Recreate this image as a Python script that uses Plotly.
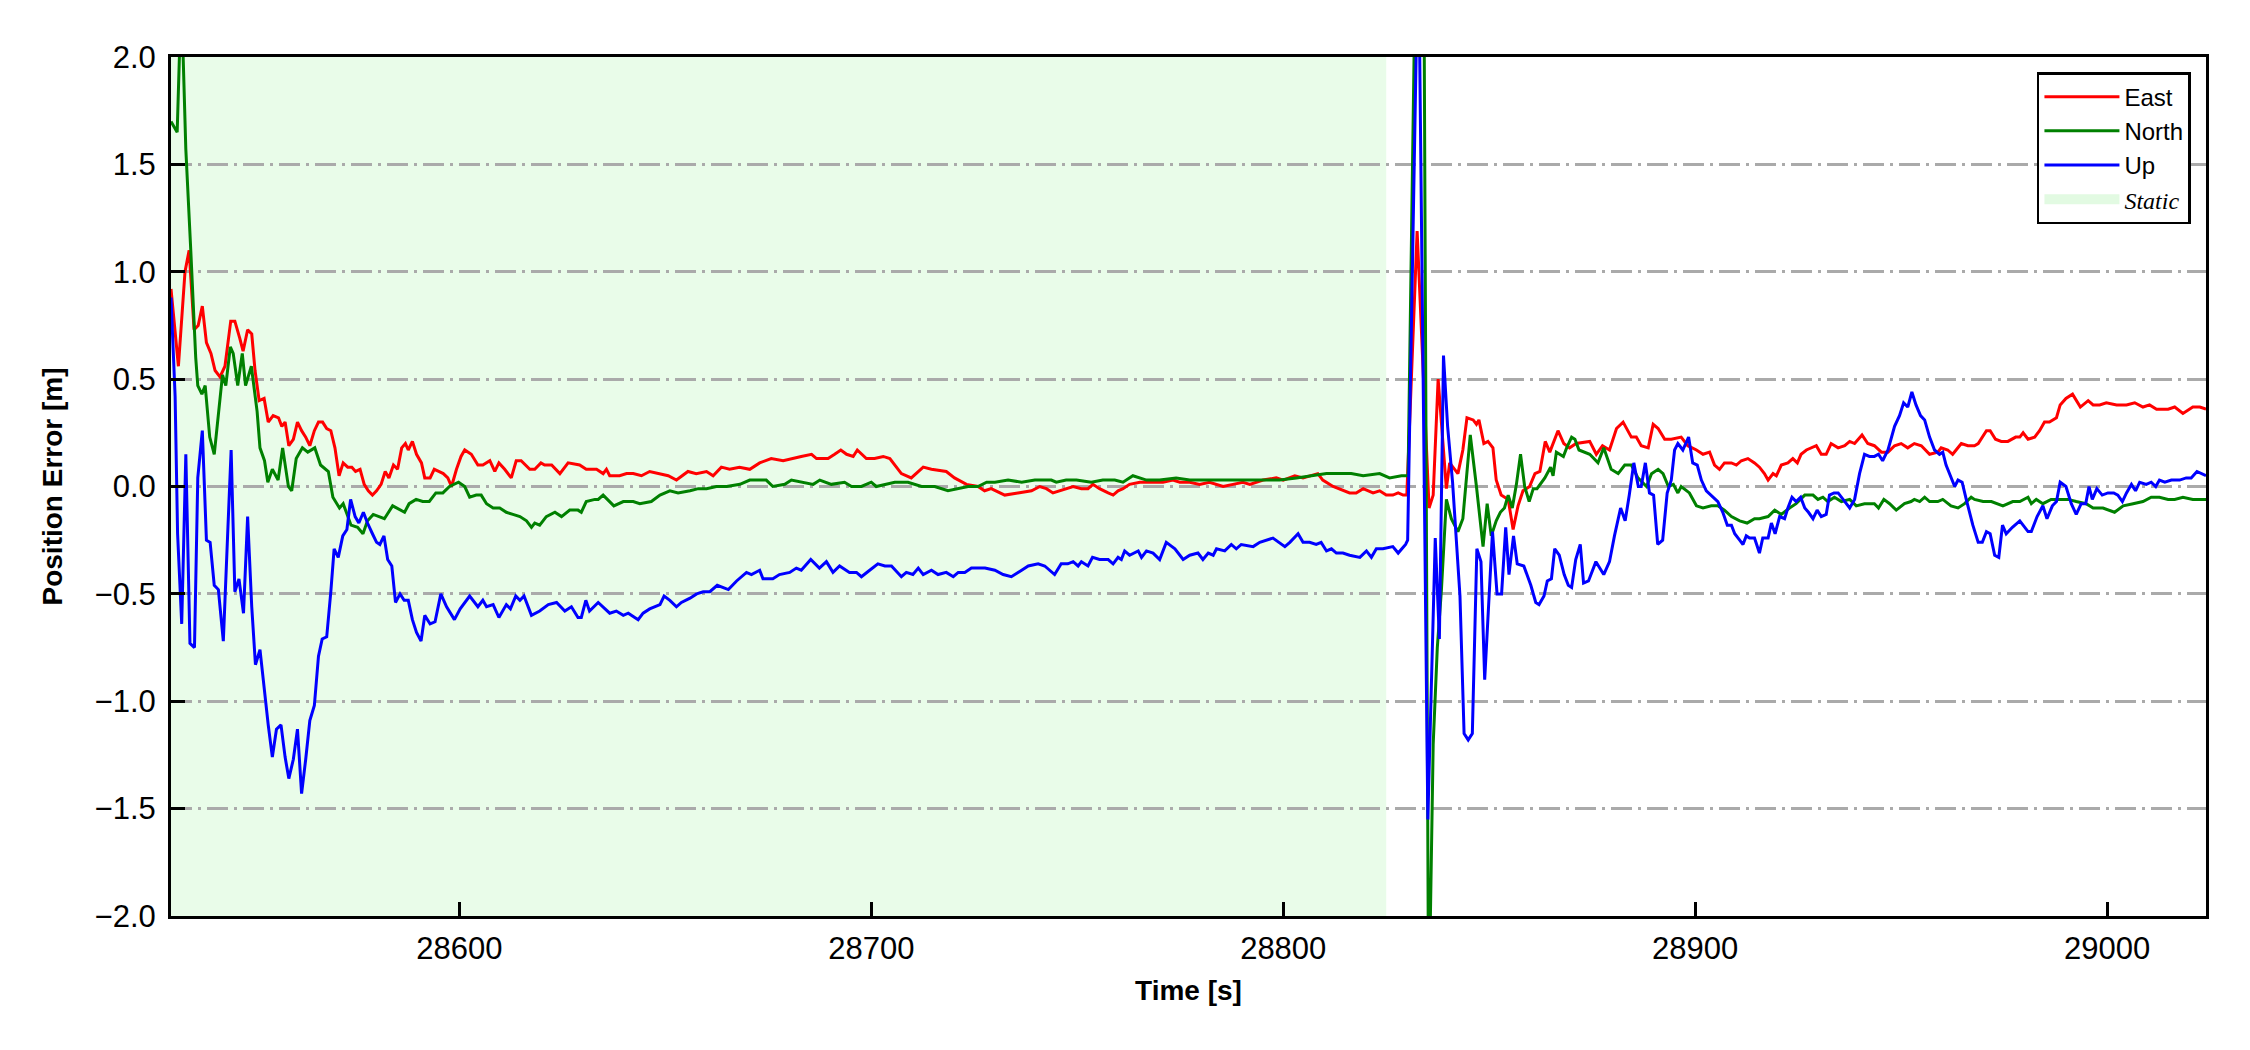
import plotly.graph_objects as go

# ---------------- data ----------------
static_span = [28530, 28825]
x_range = [28530, 29024]
y_range = [-2.0, 2.0]
x_ticks = [28600, 28700, 28800, 28900, 29000]
y_ticks = [-2.0, -1.5, -1.0, -0.5, 0.0, 0.5, 1.0, 1.5, 2.0]

east_t = [28530.0, 28531.8, 28533.4, 28534.4, 28535.6, 28536.6, 28537.6, 28538.6, 28539.7, 28540.7,
          28541.9, 28543.1, 28544.5, 28545.5, 28546.7, 28547.5, 28548.6, 28549.6, 28550.4, 28551.4,
          28552.6, 28553.6, 28554.8, 28556.1, 28556.9, 28557.7, 28558.6, 28559.7, 28560.7, 28561.7,
          28562.7, 28563.7, 28564.8, 28565.8, 28566.8, 28567.8, 28568.8, 28569.8, 28570.8, 28571.8,
          28572.9, 28573.9, 28574.8, 28575.9, 28576.9, 28577.9, 28578.9, 28579.9, 28581.0, 28582.0,
          28582.9, 28584.0, 28585.0, 28586.0, 28586.9, 28587.6, 28588.6, 28589.6, 28590.8, 28591.6,
          28592.9, 28593.9, 28595.0, 28596.1, 28597.2, 28598.1, 28599.3, 28600.4, 28601.3, 28602.9,
          28604.5, 28605.7, 28607.4, 28608.6, 28609.6, 28611.0, 28612.6, 28613.8, 28615.0, 28617.1,
          28618.3, 28619.8, 28620.7, 28622.4, 28624.4, 28626.4, 28629.2, 28630.8, 28633.3, 28634.9,
          28635.7, 28636.5, 28638.9, 28640.6, 28642.2, 28644.2, 28646.2, 28648.7, 28650.7, 28652.7,
          28655.5, 28657.5, 28660.0, 28661.6, 28663.6, 28665.6, 28668.0, 28670.5, 28672.9, 28675.7,
          28678.6, 28683.0, 28685.5, 28686.7, 28689.5, 28691.1, 28692.6, 28694.0, 28695.6, 28696.6,
          28698.8, 28700.8, 28702.9, 28704.5, 28707.3, 28709.7, 28712.6, 28714.6, 28718.2, 28720.2,
          28723.1, 28725.9, 28727.5, 28729.1, 28732.4, 28735.6, 28738.9, 28740.9, 28742.5, 28744.1,
          28745.7, 28747.3, 28749.0, 28751.0, 28752.6, 28753.8, 28755.4, 28757.5, 28758.7, 28759.9,
          28761.1, 28762.7, 28765.2, 28767.6, 28770.8, 28773.2, 28774.9, 28777.3, 28779.7, 28782.1,
          28785.4, 28787.8, 28790.2, 28791.9, 28795.1, 28798.3, 28800.0, 28802.8, 28804.8, 28808.4,
          28809.6, 28812.1, 28814.5, 28816.1, 28817.7, 28819.4, 28821.8, 28823.4, 28825.0, 28826.6,
          28827.9, 28829.1, 28830.0, 28832.5, 28835.4, 28836.4, 28837.6, 28839.6, 28840.4, 28842.4,
          28843.6, 28844.6, 28846.1, 28846.9, 28847.5, 28848.7, 28849.7, 28850.9, 28851.7, 28852.9,
          28854.6, 28855.8, 28857.0, 28858.2, 28859.8, 28861.1, 28862.3, 28863.6, 28864.7, 28866.7,
          28868.1, 28869.5, 28871.1, 28874.4, 28876.0, 28877.5, 28879.2, 28880.9, 28882.5, 28884.5,
          28885.7, 28886.9, 28888.6, 28889.8, 28891.0, 28892.6, 28894.2, 28896.6, 28898.2, 28900.3,
          28901.9, 28903.5, 28904.7, 28905.9, 28907.1, 28908.8, 28910.0, 28911.2, 28912.8, 28914.4,
          28915.6, 28916.8, 28917.7, 28918.9, 28919.7, 28920.9, 28922.5, 28923.7, 28924.8, 28925.7,
          28927.0, 28928.2, 28929.4, 28930.6, 28931.8, 28933.0, 28934.7, 28936.3, 28937.5, 28938.7,
          28940.5, 28941.9, 28943.5, 28945.2, 28946.8, 28948.4, 28950.0, 28951.6, 28953.2, 28954.9,
          28956.9, 28958.9, 28959.7, 28961.3, 28962.5, 28964.6, 28966.2, 28967.8, 28968.7, 28970.7,
          28971.6, 28972.9, 28974.3, 28975.9, 28977.8, 28978.8, 28979.6, 28980.8, 28982.4, 28983.6,
          28984.8, 28986.0, 28987.7, 28988.6, 28990.0, 28991.6, 28992.5, 28993.5, 28995.4, 28996.6,
          28998.2, 28999.8, 29002.3, 29004.7, 29006.7, 29008.7, 29010.3, 29012.0, 29014.8, 29016.4,
          29018.4, 29020.8, 29022.5, 29024.0]
east_v = [0.92, 0.56, 1.00, 1.10, 0.73, 0.75, 0.84, 0.67, 0.62, 0.54,
          0.51, 0.56, 0.77, 0.77, 0.69, 0.63, 0.73, 0.71, 0.54, 0.40,
          0.41, 0.30, 0.33, 0.32, 0.28, 0.30, 0.19, 0.22, 0.30, 0.26,
          0.23, 0.19, 0.26, 0.30, 0.30, 0.27, 0.26, 0.18, 0.05, 0.11,
          0.09, 0.09, 0.07, 0.08, 0.01, -0.02, -0.04, -0.02, 0.01, 0.07,
          0.04, 0.10, 0.08, 0.18, 0.20, 0.17, 0.21, 0.15, 0.11, 0.04,
          0.04, 0.08, 0.07, 0.06, 0.04, 0.00, 0.08, 0.14, 0.17, 0.15,
          0.10, 0.10, 0.12, 0.07, 0.11, 0.08, 0.04, 0.12, 0.12, 0.08,
          0.08, 0.11, 0.10, 0.10, 0.06, 0.11, 0.10, 0.08, 0.08, 0.06,
          0.08, 0.05, 0.05, 0.06, 0.06, 0.05, 0.07, 0.06, 0.05, 0.03,
          0.07, 0.06, 0.07, 0.05, 0.09, 0.08, 0.09, 0.08, 0.11, 0.13,
          0.12, 0.14, 0.15, 0.13, 0.13, 0.15, 0.17, 0.15, 0.14, 0.17,
          0.13, 0.13, 0.14, 0.13, 0.06, 0.04, 0.09, 0.08, 0.07, 0.04,
          0.01, 0.00, -0.02, -0.01, -0.04, -0.03, -0.02, 0.00, -0.01, -0.03,
          -0.02, -0.01, 0.00, -0.01, -0.01, 0.01, -0.01, -0.03, -0.04, -0.02,
          -0.01, 0.01, 0.02, 0.02, 0.02, 0.03, 0.02, 0.02, 0.01, 0.02,
          0.00, 0.01, 0.02, 0.01, 0.03, 0.04, 0.03, 0.05, 0.04, 0.06,
          0.03, 0.00, -0.02, -0.03, -0.03, -0.01, -0.03, -0.02, -0.04, -0.04,
          -0.03, -0.04, -0.04, 1.19, -0.10, -0.04, 0.50, -0.01, 0.11, 0.06,
          0.17, 0.32, 0.31, 0.29, 0.31, 0.20, 0.21, 0.18, 0.03, -0.04,
          -0.06, -0.20, -0.09, -0.02, 0.00, 0.06, 0.07, 0.21, 0.16, 0.26,
          0.20, 0.18, 0.20, 0.21, 0.15, 0.19, 0.17, 0.27, 0.30, 0.23,
          0.23, 0.19, 0.18, 0.29, 0.27, 0.22, 0.22, 0.23, 0.19, 0.17,
          0.15, 0.16, 0.10, 0.08, 0.11, 0.11, 0.10, 0.12, 0.13, 0.11,
          0.09, 0.06, 0.03, 0.06, 0.05, 0.10, 0.11, 0.13, 0.11, 0.15,
          0.17, 0.18, 0.19, 0.15, 0.15, 0.20, 0.18, 0.19, 0.21, 0.20,
          0.24, 0.20, 0.19, 0.16, 0.16, 0.19, 0.20, 0.18, 0.20, 0.19,
          0.15, 0.16, 0.18, 0.17, 0.15, 0.20, 0.19, 0.19, 0.20, 0.26,
          0.26, 0.22, 0.21, 0.21, 0.23, 0.23, 0.25, 0.22, 0.23, 0.26,
          0.30, 0.30, 0.32, 0.38, 0.41, 0.43, 0.40, 0.37, 0.40, 0.38,
          0.38, 0.39, 0.38, 0.38, 0.39, 0.37, 0.38, 0.36, 0.36, 0.37,
          0.34, 0.37, 0.37, 0.36]

north_t = [28530.0, 28531.5, 28532.5, 28533.6, 28534.8, 28536.0, 28536.5, 28537.5, 28538.3, 28539.4,
           28540.5, 28541.4, 28542.5, 28543.3, 28544.4, 28545.1, 28546.2, 28547.3, 28548.1, 28549.5,
           28550.9, 28551.6, 28552.7, 28553.5, 28554.6, 28556.0, 28557.1, 28558.5, 28559.3, 28560.4,
           28561.9, 28563.2, 28564.9, 28566.3, 28568.2, 28569.3, 28570.9, 28571.8, 28573.7, 28575.3,
           28576.6, 28577.7, 28579.1, 28580.5, 28581.8, 28583.8, 28585.6, 28586.7, 28587.8, 28589.5,
           28591.1, 28592.7, 28594.3, 28596.0, 28597.6, 28599.8, 28601.3, 28602.5, 28604.1, 28605.3,
           28606.6, 28608.2, 28609.8, 28611.4, 28613.0, 28614.7, 28616.3, 28617.5, 28618.3, 28619.5,
           28621.1, 28623.2, 28624.8, 28626.8, 28628.8, 28629.6, 28630.8, 28632.9, 28633.7, 28634.9,
           28637.5, 28639.8, 28642.2, 28643.8, 28646.6, 28648.7, 28651.1, 28653.1, 28656.0, 28658.0,
           28660.0, 28662.4, 28664.9, 28668.1, 28670.5, 28672.9, 28674.5, 28676.1, 28679.0, 28680.6,
           28683.8, 28685.9, 28687.5, 28690.3, 28693.5, 28695.2, 28697.6, 28700.0, 28701.2, 28705.7,
           28708.9, 28712.2, 28715.4, 28718.6, 28723.5, 28725.9, 28728.0, 28730.0, 28733.2, 28736.5,
           28739.7, 28743.7, 28744.9, 28747.3, 28749.8, 28753.4, 28756.2, 28759.1, 28761.1, 28763.5,
           28766.8, 28770.0, 28774.0, 28777.3, 28781.3, 28785.4, 28788.6, 28791.9, 28795.1, 28799.1,
           28803.2, 28807.2, 28810.5, 28813.7, 28816.5, 28819.4, 28823.4, 28825.8, 28828.7, 28830.3,
           28832.5, 28834.0, 28835.3, 28836.4, 28837.4, 28838.4, 28839.6, 28840.8, 28842.4, 28843.6,
           28845.4, 28846.9, 28848.5, 28849.5, 28850.5, 28851.7, 28852.7, 28853.7, 28854.6, 28855.6,
           28856.6, 28857.6, 28858.6, 28859.7, 28860.7, 28861.6, 28863.5, 28864.9, 28865.5, 28866.3,
           28868.0, 28868.8, 28870.0, 28870.8, 28871.8, 28874.4, 28876.4, 28877.8, 28879.6, 28881.3,
           28882.9, 28884.5, 28886.1, 28888.2, 28889.4, 28891.0, 28892.2, 28893.5, 28894.7, 28895.8,
           28896.6, 28898.6, 28900.3, 28901.9, 28903.9, 28905.5, 28907.1, 28908.8, 28910.8, 28912.6,
           28914.4, 28915.6, 28917.7, 28919.3, 28920.9, 28922.9, 28924.5, 28926.6, 28928.6, 28929.8,
           28931.0, 28932.2, 28933.8, 28935.5, 28937.5, 28939.1, 28941.1, 28943.5, 28944.5, 28945.8,
           28947.2, 28948.8, 28950.8, 28952.4, 28953.2, 28954.5, 28955.7, 28956.9, 28958.9, 28960.1,
           28962.1, 28963.8, 28965.4, 28967.0, 28967.8, 28969.9, 28971.9, 28974.7, 28977.1, 28978.8,
           28980.8, 28981.6, 28982.8, 28984.4, 28986.4, 28988.5, 28990.5, 28992.5, 28994.9, 28996.6,
           28999.0, 29001.8, 29003.9, 29006.3, 29008.7, 29010.7, 29012.7, 29014.8, 29016.4, 29018.4,
           29020.8, 29024.0]
north_v = [1.70, 1.65, 2.30, 1.57, 1.10, 0.60, 0.47, 0.43, 0.47, 0.23,
           0.15, 0.33, 0.52, 0.47, 0.65, 0.62, 0.47, 0.62, 0.47, 0.56,
           0.35, 0.18, 0.12, 0.02, 0.08, 0.03, 0.18, 0.00, -0.02, 0.13,
           0.18, 0.16, 0.18, 0.10, 0.07, -0.05, -0.10, -0.08, -0.18, -0.19,
           -0.22, -0.16, -0.13, -0.14, -0.15, -0.09, -0.11, -0.12, -0.08, -0.06,
           -0.07, -0.07, -0.03, -0.03, 0.00, 0.02, 0.00, -0.05, -0.04, -0.04,
           -0.08, -0.10, -0.10, -0.12, -0.13, -0.14, -0.16, -0.19, -0.17, -0.18,
           -0.14, -0.12, -0.14, -0.11, -0.11, -0.12, -0.07, -0.06, -0.06, -0.04,
           -0.09, -0.07, -0.07, -0.08, -0.07, -0.04, -0.02, -0.03, -0.02, -0.01,
           -0.01, 0.00, 0.00, 0.01, 0.03, 0.03, 0.03, 0.00, 0.01, 0.03,
           0.02, 0.01, 0.03, 0.01, 0.02, 0.00, 0.00, 0.02, 0.00, 0.02,
           0.02, 0.00, 0.00, -0.02, 0.00, 0.00, 0.02, 0.02, 0.03, 0.02,
           0.03, 0.03, 0.02, 0.03, 0.03, 0.02, 0.03, 0.03, 0.02, 0.05,
           0.03, 0.03, 0.04, 0.03, 0.03, 0.03, 0.03, 0.03, 0.03, 0.03,
           0.04, 0.05, 0.06, 0.06, 0.06, 0.05, 0.06, 0.04, 0.05, 0.05,
           3.00, 3.00, -2.50, -1.20, -0.75, -0.48, -0.06, -0.15, -0.21, -0.15,
           0.24, 0.00, -0.28, -0.08, -0.23, -0.16, -0.12, -0.10, -0.04, -0.10,
           0.01, 0.15, 0.00, -0.07, -0.01, -0.01, 0.04, 0.09, 0.05, 0.16,
           0.14, 0.18, 0.23, 0.22, 0.17, 0.15, 0.11, 0.18, 0.08, 0.06,
           0.10, 0.10, 0.04, 0.00, 0.06, 0.08, 0.06, 0.00, 0.01, -0.03,
           0.00, -0.03, -0.09, -0.10, -0.09, -0.09, -0.11, -0.14, -0.16, -0.17,
           -0.15, -0.15, -0.14, -0.11, -0.13, -0.10, -0.08, -0.04, -0.04, -0.06,
           -0.05, -0.07, -0.05, -0.07, -0.06, -0.09, -0.08, -0.08, -0.10, -0.06,
           -0.08, -0.11, -0.08, -0.07, -0.06, -0.07, -0.05, -0.07, -0.07, -0.06,
           -0.09, -0.10, -0.08, -0.05, -0.06, -0.07, -0.07, -0.09, -0.07, -0.07,
           -0.05, -0.08, -0.06, -0.08, -0.06, -0.06, -0.06, -0.07, -0.08, -0.10,
           -0.10, -0.12, -0.09, -0.08, -0.07, -0.05, -0.05, -0.06, -0.06, -0.05,
           -0.06, -0.06]

up_t = [28530.0, 28531.0, 28531.6, 28532.6, 28533.6, 28534.6, 28535.7, 28536.5, 28537.6, 28538.6,
        28539.5, 28540.5, 28541.5, 28542.7, 28543.8, 28544.6, 28545.5, 28546.5, 28547.6, 28548.6,
        28549.6, 28550.5, 28551.6, 28552.6, 28553.6, 28554.6, 28555.6, 28556.7, 28557.7, 28558.6,
        28559.7, 28560.7, 28561.7, 28562.7, 28563.7, 28564.8, 28565.8, 28566.7, 28567.8, 28568.8,
        28569.6, 28570.6, 28571.7, 28572.7, 28573.6, 28574.7, 28575.6, 28576.7, 28577.7, 28578.9,
        28579.9, 28580.7, 28581.7, 28582.6, 28583.6, 28584.5, 28585.6, 28586.6, 28587.6, 28588.6,
        28589.6, 28590.7, 28591.6, 28592.9, 28594.1, 28595.5, 28596.9, 28598.8, 28600.2, 28602.5,
        28604.5, 28605.7, 28606.6, 28608.2, 28609.6, 28611.4, 28612.4, 28613.7, 28614.7, 28615.7,
        28617.5, 28619.5, 28621.6, 28623.6, 28625.6, 28627.2, 28628.8, 28629.6, 28630.7, 28631.6,
        28633.7, 28636.5, 28638.1, 28639.8, 28641.0, 28643.4, 28644.6, 28646.2, 28648.7, 28649.7,
        28651.1, 28652.7, 28653.9, 28656.0, 28657.6, 28659.2, 28660.8, 28662.6, 28665.3, 28667.3,
        28669.7, 28670.9, 28672.9, 28673.7, 28676.1, 28677.7, 28680.2, 28681.8, 28683.0, 28685.3,
        28687.4, 28689.1, 28690.7, 28692.3, 28694.7, 28696.4, 28697.6, 28699.6, 28701.6, 28703.3,
        28704.9, 28707.3, 28708.5, 28710.1, 28711.4, 28712.6, 28714.6, 28716.2, 28718.2, 28719.9,
        28721.1, 28722.7, 28724.3, 28727.6, 28730.0, 28732.0, 28734.0, 28736.5, 28738.1, 28740.5,
        28742.1, 28744.5, 28746.1, 28747.7, 28749.0, 28750.2, 28751.0, 28752.6, 28753.7, 28755.4,
        28757.5, 28758.7, 28759.9, 28760.7, 28761.5, 28762.7, 28764.8, 28765.6, 28766.8, 28768.4,
        28770.0, 28771.6, 28773.7, 28775.7, 28777.3, 28779.3, 28780.5, 28781.8, 28783.0, 28783.8,
        28785.8, 28787.4, 28788.6, 28789.8, 28792.7, 28794.3, 28795.9, 28797.5, 28800.4, 28801.6,
        28803.6, 28804.8, 28806.4, 28808.0, 28809.2, 28810.5, 28811.7, 28812.9, 28814.5, 28816.1,
        28818.6, 28820.2, 28821.4, 28822.6, 28824.2, 28826.6, 28827.9, 28829.7, 28830.2, 28832.8,
        28835.1, 28835.9, 28836.9, 28837.9, 28838.9, 28839.9, 28841.1, 28842.9, 28843.9, 28844.9,
        28845.9, 28847.0, 28848.0, 28848.9, 28850.0, 28850.8, 28851.9, 28853.0, 28854.0, 28854.8,
        28855.9, 28856.8, 28858.4, 28860.1, 28861.3, 28862.1, 28863.3, 28864.1, 28865.1, 28865.9,
        28867.0, 28868.2, 28869.2, 28870.0, 28871.0, 28872.1, 28872.9, 28874.1, 28875.9, 28877.8,
        28879.2, 28880.4, 28881.9, 28883.0, 28884.0, 28885.1, 28886.2, 28886.9, 28887.9, 28888.9,
        28889.9, 28890.9, 28892.1, 28893.2, 28894.2, 28895.0, 28895.8, 28897.0, 28898.4, 28899.4,
        28900.5, 28901.5, 28902.7, 28903.9, 28905.5, 28906.7, 28907.8, 28908.8, 28909.6, 28910.8,
        28911.6, 28912.4, 28913.2, 28914.4, 28915.6, 28916.4, 28917.7, 28918.5, 28919.4, 28920.5,
        28921.7, 28922.5, 28923.5, 28924.5, 28925.6, 28926.6, 28927.5, 28928.6, 28929.6, 28930.6,
        28931.8, 28932.6, 28933.7, 28934.7, 28935.9, 28937.5, 28938.7, 28939.9, 28941.1, 28942.3,
        28943.5, 28944.5, 28945.5, 28946.8, 28948.4, 28949.6, 28950.6, 28951.6, 28952.6, 28953.6,
        28954.7, 28955.7, 28956.9, 28958.1, 28959.3, 28960.1, 28960.9, 28962.0, 28963.0, 28963.8,
        28964.8, 28965.8, 28967.4, 28968.7, 28969.7, 28970.7, 28971.6, 28972.7, 28973.7, 28974.6,
        28975.5, 28977.0, 28978.8, 28980.8, 28981.6, 28983.0, 28984.4, 28985.4, 28986.7, 28987.7,
        28988.6, 28990.0, 28991.3, 28992.5, 28993.7, 28994.8, 28995.6, 28996.4, 28997.5, 28998.8,
        29000.2, 29001.6, 29002.6, 29003.7, 29004.7, 29005.9, 29006.9, 29007.9, 29009.5, 29010.7,
        29011.8, 29012.7, 29014.0, 29015.6, 29017.6, 29019.2, 29020.4, 29021.8, 29024.0]
up_v = [0.88, 0.42, -0.22, -0.64, 0.15, -0.73, -0.75, 0.04, 0.26, -0.25,
        -0.26, -0.46, -0.48, -0.72, -0.20, 0.17, -0.49, -0.43, -0.59, -0.14,
        -0.56, -0.83, -0.76, -0.94, -1.11, -1.26, -1.13, -1.11, -1.26, -1.36,
        -1.27, -1.13, -1.43, -1.27, -1.09, -1.02, -0.79, -0.71, -0.70, -0.49,
        -0.29, -0.33, -0.23, -0.20, -0.06, -0.14, -0.17, -0.12, -0.17, -0.22,
        -0.26, -0.27, -0.23, -0.34, -0.37, -0.54, -0.50, -0.53, -0.53, -0.62,
        -0.68, -0.72, -0.60, -0.64, -0.63, -0.50, -0.56, -0.62, -0.57, -0.51,
        -0.56, -0.53, -0.56, -0.55, -0.61, -0.55, -0.57, -0.51, -0.53, -0.51,
        -0.60, -0.58, -0.55, -0.54, -0.58, -0.56, -0.61, -0.61, -0.53, -0.58,
        -0.54, -0.59, -0.58, -0.60, -0.59, -0.62, -0.59, -0.57, -0.55, -0.51,
        -0.53, -0.56, -0.54, -0.52, -0.50, -0.49, -0.49, -0.46, -0.48, -0.44,
        -0.40, -0.41, -0.39, -0.43, -0.43, -0.41, -0.40, -0.38, -0.39, -0.34,
        -0.38, -0.35, -0.40, -0.37, -0.40, -0.40, -0.42, -0.39, -0.36, -0.37,
        -0.37, -0.42, -0.40, -0.41, -0.38, -0.41, -0.39, -0.41, -0.40, -0.42,
        -0.40, -0.40, -0.38, -0.38, -0.39, -0.41, -0.42, -0.39, -0.37, -0.36,
        -0.37, -0.41, -0.36, -0.36, -0.35, -0.37, -0.35, -0.37, -0.33, -0.34,
        -0.34, -0.36, -0.33, -0.34, -0.30, -0.32, -0.30, -0.33, -0.30, -0.31,
        -0.34, -0.26, -0.29, -0.34, -0.32, -0.31, -0.34, -0.31, -0.32, -0.29,
        -0.30, -0.27, -0.29, -0.27, -0.28, -0.26, -0.25, -0.24, -0.28, -0.26,
        -0.22, -0.26, -0.26, -0.27, -0.26, -0.30, -0.29, -0.31, -0.31, -0.32,
        -0.33, -0.30, -0.33, -0.29, -0.29, -0.28, -0.31, -0.27, -0.25, 2.60,
        -1.55, -0.98, -0.24, -0.71, 0.61, 0.28, 0.02, -0.51, -1.15, -1.18,
        -1.15, -0.29, -0.35, -0.90, -0.49, -0.21, -0.50, -0.50, -0.19, -0.41,
        -0.23, -0.36, -0.37, -0.46, -0.54, -0.55, -0.51, -0.44, -0.43, -0.29,
        -0.32, -0.41, -0.46, -0.47, -0.34, -0.27, -0.45, -0.44, -0.35, -0.41,
        -0.35, -0.23, -0.10, -0.16, -0.04, 0.11, 0.00, 0.00, 0.11, -0.03,
        -0.04, -0.27, -0.25, -0.03, 0.03, 0.17, 0.20, 0.17, 0.23, 0.11,
        0.10, 0.03, -0.02, -0.04, -0.07, -0.12, -0.18, -0.18, -0.22, -0.25,
        -0.27, -0.23, -0.24, -0.24, -0.31, -0.24, -0.24, -0.17, -0.22, -0.14,
        -0.15, -0.10, -0.05, -0.07, -0.05, -0.10, -0.12, -0.15, -0.11, -0.14,
        -0.13, -0.04, -0.03, -0.03, -0.06, -0.10, -0.06, 0.06, 0.15, 0.14,
        0.14, 0.15, 0.12, 0.17, 0.28, 0.33, 0.39, 0.37, 0.44, 0.38,
        0.33, 0.31, 0.23, 0.17, 0.15, 0.16, 0.10, 0.05, 0.00, 0.03,
        0.02, -0.06, -0.18, -0.26, -0.26, -0.21, -0.22, -0.32, -0.33, -0.18,
        -0.22, -0.19, -0.16, -0.21, -0.21, -0.14, -0.09, -0.15, -0.09, -0.07,
        0.02, 0.00, -0.08, -0.13, -0.08, -0.08, 0.00, -0.06, -0.01, -0.04,
        -0.03, -0.03, -0.04, -0.07, -0.03, 0.01, -0.02, 0.02, 0.01, 0.02,
        0.00, 0.03, 0.02, 0.03, 0.03, 0.04, 0.04, 0.07, 0.05]

series_names = ["East", "North", "Up"]
series_colors = ["#ff0000", "#008000", "#0000ff"]
static_name = "Static"
static_color = "#e9fce9"
static_legend_color = "#e2fae2"

# ---------------- figure ----------------
fig = go.Figure()

for name, color, tt, vv, rank in zip(series_names, series_colors,
                                     [east_t, north_t, up_t], [east_v, north_v, up_v], [1, 2, 3]):
    fig.add_trace(go.Scatter(x=tt, y=vv, mode="lines", name=name,
                             line=dict(color=color, width=3), legendrank=rank))

# static period shading, drawn beneath the grid
fig.add_shape(
    type="rect", xref="x", yref="y",
    x0=static_span[0], x1=static_span[1], y0=y_range[0], y1=y_range[1],
    fillcolor=static_color, line=dict(width=0, color=static_color), layer="below",
)
# legend entry for the static period (thick pale-green swatch)
fig.add_trace(go.Scatter(
    x=[None], y=[None], mode="lines",
    line=dict(color=static_legend_color, width=20),
    name='<span style="font-family:\'Liberation Serif\', \'DejaVu Serif\', serif"><i>%s</i></span>' % static_name,
    legendrank=4, hoverinfo="skip"))

font_family = "Liberation Sans, Arial, Helvetica, sans-serif"

# page body adds an 8 px offset; margins compensate so the plot box sits where the reference's does
fig.update_layout(
    width=2250, height=1050,
    margin=dict(l=163, r=52, t=49, b=142, autoexpand=False),
    paper_bgcolor="white", plot_bgcolor="white",
    font=dict(family=font_family, size=31, color="black"),
    showlegend=True,
    legend=dict(x=0.9926, xanchor="right", y=0.9825, yanchor="top",
                bgcolor="white", bordercolor="black", borderwidth=2.5,
                font=dict(size=24, family=font_family), tracegroupgap=0,
                itemwidth=75),
)

fig.update_xaxes(
    range=x_range, tickvals=x_ticks, tickformat="d",
    showgrid=False, zeroline=False,
    showline=True, linecolor="black", linewidth=3, mirror=True,
    ticks="inside", ticklen=14, tickwidth=3, tickcolor="black",
    tickfont=dict(size=31), ticklabelstandoff=3,
    title=dict(text="<b>Time [s]</b>", font=dict(size=28), standoff=16),
    automargin=False,
)
fig.update_yaxes(
    range=y_range, tickvals=y_ticks, tickformat=".1f",
    showgrid=True, gridcolor="#aaaaaa", gridwidth=3, griddash="21px,6px,3px,6px",
    zeroline=False,
    showline=True, linecolor="black", linewidth=3, mirror=True,
    ticks="inside", ticklen=14, tickwidth=3, tickcolor="black",
    tickfont=dict(size=31), ticklabelstandoff=6,
    title=dict(text="<b>Position Error [m]</b>", font=dict(size=28), standoff=24),
    automargin=False,
)

fig.write_html("out.html")
